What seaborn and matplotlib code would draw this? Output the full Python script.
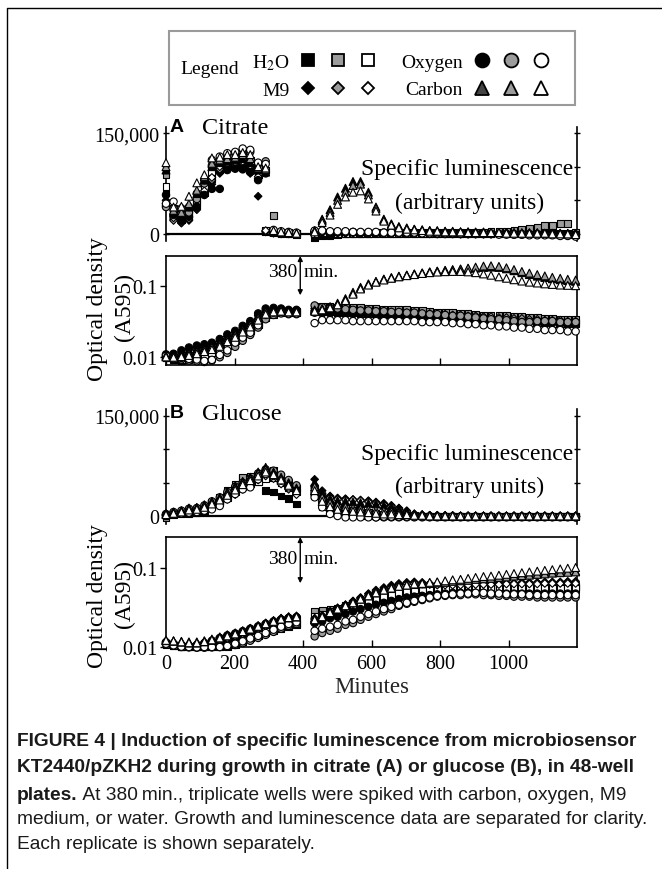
import numpy as np
import pandas as pd
import matplotlib
matplotlib.use("Agg")
import matplotlib.pyplot as plt
import matplotlib.transforms as mtransforms
from matplotlib.lines import Line2D
from matplotlib.patches import Rectangle
from matplotlib.legend_handler import HandlerTuple
from matplotlib.ticker import NullLocator, NullFormatter
from matplotlib import font_manager as fm
import seaborn as sns

sns.set_theme(style="white")
plt.rcParams["font.family"] = ["Liberation Serif", "DejaVu Serif"]
plt.rcParams["mathtext.fontset"] = "stix"
plt.rcParams["axes.edgecolor"] = "black"
plt.rcParams["axes.linewidth"] = 1.2
plt.rcParams["xtick.color"] = "black"
plt.rcParams["ytick.color"] = "black"
plt.rcParams["text.color"] = "black"

# ------------------------------------------------------------------ data
# sampling times (minutes) before and after the 380-min spike
T_PRE = [0, 22, 45, 67, 90, 112, 134, 157, 179, 202, 224, 246, 269, 291, 314, 336, 358, 381]
T_POST = [434, 456, 479, 501, 524, 546, 568, 591, 613, 636, 658, 680, 703, 725, 748, 770, 792,
          815, 837, 860, 882, 904, 927, 949, 972, 994, 1016, 1039, 1061, 1084, 1106, 1128,
          1151, 1173, 1196]
TREATMENTS = ["H2O", "M9", "Oxygen", "Carbon"]
REPLICATES = ["black", "gray", "white"]

# ---- Panel A (citrate): specific luminescence, thousands of arbitrary units
A_LUM_H2O = [
    [62, 30, 22, 28, 45, 62, 82, 95, 100, 102, 100, 96, 88, 4, 2, 1, 0, -1]
    + [-5, -3, -2, -1, 0, 0, 0, 0, 1, 1, 1, 1, 1, 1, 1, 1, 1, 1, 1, 1, 1, 1, 1, 1, 1, 1, 1, 1, 1, 1, 1, 1, 1, 1, 0],
    [88, 35, 25, 30, 50, 72, 98, 105, 110, 112, 115, 110, 100, 95, 27, 3, 2, 1]
    + [0, 1, 1, 1, 1, 1, 1, 1, 2, 2, 2, 2, 2, 2, 2, 2, 3, 3, 3, 3, 3, 3, 3, 4, 4, 4, 6, 7, 8, 9, 12, 13, 15, 16, 3],
    [70, 38, 28, 34, 55, 70, 92, 102, 106, 108, 110, 104, 92, 5, 3, 2, 1, 1]
    + [1, 2, 2, 1, 1, 1, 1, 1, 1, 1, 1, 1, 1, 1, 1, 1, 1, 1, 1, 1, 0, 0, 0, 0, 0, 0, 0, 0, 0, 0, 0, 0, 0, 0, 0],
]
A_LUM_M9 = [
    [50, 22, 16, 20, 36, 58, 74, 90, 96, 98, 97, 90, 56, 3, 1, 0, 0, 0]
    + [2, 2, 2, 2, 1, 1, 1, 1, 1, 1, 1, 1, 1, 1, 1, 0, 0, 0, 0, 0, 0, 0, 0, 0, 0, 0, 0, 0, 0, 0, 0, 0, 0, 0, 0],
    [42, 20, 17, 22, 38, 60, 80, 96, 102, 104, 106, 100, 82, 4, 2, 1, 1, 0]
    + [3, 3, 2, 2, 2, 2, 2, 1, 1, 1, 1, 1, 1, 1, 1, 1, 1, 1, 1, 0, 0, 0, 0, 0, 0, 0, 0, 0, 0, 0, 0, 0, 0, 0, 0],
    [45, 24, 19, 25, 42, 64, 84, 100, 104, 106, 108, 102, 85, 5, 3, 2, 1, 1]
    + [3, 3, 3, 2, 2, 2, 2, 2, 2, 1, 1, 1, 1, 1, 1, 1, 1, 1, 1, 1, 1, 1, 0, 0, 0, 0, 0, 0, 0, 0, 0, 0, 0, -1, -1],
]
A_LUM_OXY = [
    [58, 28, 20, 26, 40, 58, 67, 67, 95, 97, 96, 92, 80, 90, 4, 2, 1, 0]
    + [3, 3, 2, 2, 2, 2, 1, 1, 1, 1, 1, 1, 1, 1, 1, 1, 0, 0, 0, 0, 0, 0, 0, 0, 0, 0, 0, 0, 0, 0, -1, -1, -1, -1, -1],
    [40, 38, 30, 32, 52, 75, 102, 110, 116, 120, 125, 122, 104, 108, 5, 3, 2, 1]
    + [4, 4, 3, 3, 3, 3, 2, 2, 2, 2, 2, 2, 1, 1, 1, 1, 1, 1, 1, 0, 0, 0, 0, 0, 0, 0, -1, -1, -1, -1, -1, -1, -2, -2, -2],
    [45, 48, 38, 40, 60, 80, 110, 115, 120, 122, 127, 125, 106, 104, 6, 4, 3, 2]
    + [5, 5, 4, 4, 4, 3, 3, 3, 3, 2, 2, 2, 2, 2, 1, 1, 1, 1, 1, 0, 0, 0, 0, 0, -1, -1, -1, -1, -2, -2, -2, -2, -3, -3, -4],
]
A_LUM_CARB = [
    [95, 32, 28, 40, 60, 80, 100, 106, 108, 110, 112, 106, 95, 92, 3, 2, 1, 1]
    + [5, 22, 36, 55, 68, 78, 78, 62, 40, 22, 15, 11, 9, 7, 6, 5, 5, 4, 4, 3, 3, 3, 3, 2, 2, 2, 2, 2, 2, 2, 1, 1, 1, 1, 0],
    [100, 35, 32, 45, 65, 85, 105, 110, 112, 114, 118, 112, 98, 96, 4, 2, 2, 1]
    + [4, 20, 32, 50, 62, 72, 74, 58, 38, 21, 14, 10, 8, 7, 6, 5, 4, 4, 3, 3, 3, 2, 2, 2, 2, 2, 2, 1, 1, 1, 1, 1, 1, 0, 0],
    [106, 40, 41, 56, 76, 88, 113, 114, 118, 118, 121, 118, 100, 98, 5, 3, 2, 1]
    + [3, 17, 28, 44, 55, 62, 64, 52, 34, 19, 13, 9, 7, 6, 5, 4, 4, 3, 3, 3, 2, 2, 2, 2, 2, 1, 1, 1, 1, 1, 1, 0, 0, 0, -1],
]

# ---- Panel A (citrate): optical density A595, in units of 0.001
A_OD_H2O = [
    [10.0, 9.2, 9.1, 9.5, 10.5, 11.5, 12.5, 14.0, 16.0, 18.5, 21.5, 25.5, 32.0, 40.0, 44.0, 44.0, 43.0, 43.0]
    + [46, 45, 45, 44, 44, 44, 43, 43, 43, 42, 42, 41, 41, 40, 40, 39, 39, 38, 38, 37, 37, 36, 36, 35, 35, 34, 34, 33, 33, 32, 32, 32, 31, 31, 31],
    [10.2, 9.8, 9.7, 10.0, 10.8, 11.7, 12.4, 13.5, 15.0, 17.5, 20.0, 24.0, 30.0, 37.0, 41.0, 43.0, 44.0, 44.0]
    + [52, 51, 51, 50, 50, 49, 49, 48, 48, 47, 47, 46, 46, 45, 45, 44, 43, 43, 42, 41, 41, 40, 39, 39, 38, 38, 37, 37, 36, 36, 35, 35, 34, 34, 34],
    [10.0, 9.5, 9.4, 9.2, 10.0, 11.0, 11.8, 13.0, 14.5, 17.0, 19.5, 23.5, 29.0, 36.0, 40.0, 42.0, 42.0, 42.0]
    + [44, 43, 43, 42, 42, 42, 41, 41, 40, 40, 40, 39, 39, 38, 38, 37, 37, 36, 36, 35, 35, 34, 34, 33, 33, 33, 32, 32, 31, 31, 31, 30, 30, 30, 30],
]
A_OD_M9 = [
    [10.8, 11.0, 11.8, 12.8, 13.6, 14.2, 15.0, 16.8, 19.5, 22.0, 26.0, 30.0, 38.0, 45.0, 47.0, 46.0, 45.0, 45.0]
    + [45, 44, 44, 43, 43, 43, 42, 42, 42, 41, 41, 40, 40, 39, 39, 38, 38, 37, 37, 36, 36, 35, 35, 34, 34, 33, 33, 33, 32, 32, 31, 31, 31, 30, 30],
    [10.4, 10.2, 10.8, 11.5, 12.5, 13.2, 14.0, 15.5, 18.0, 20.5, 24.0, 28.5, 35.0, 42.0, 45.0, 45.0, 44.0, 44.0]
    + [48, 47, 47, 46, 46, 45, 45, 45, 44, 44, 43, 43, 42, 42, 41, 41, 40, 40, 39, 39, 38, 38, 37, 37, 36, 36, 35, 35, 34, 34, 33, 33, 33, 32, 32],
    [10.2, 10.0, 10.4, 11.0, 11.8, 12.6, 13.4, 14.8, 17.0, 19.5, 23.0, 27.0, 34.0, 41.0, 44.0, 44.0, 43.0, 43.0]
    + [43, 42, 42, 41, 41, 41, 40, 40, 40, 39, 39, 38, 38, 38, 37, 37, 36, 36, 35, 35, 34, 34, 33, 33, 33, 32, 32, 31, 31, 31, 30, 30, 30, 29, 29],
]
A_OD_OXY = [
    [11.0, 11.2, 12.5, 13.7, 14.6, 15.2, 16.0, 18.0, 20.9, 23.4, 27.5, 32.0, 41.0, 48.0, 49.0, 48.0, 46.0, 46.0]
    + [42, 41, 41, 41, 40, 40, 40, 39, 39, 39, 38, 38, 38, 37, 37, 36, 36, 35, 35, 34, 34, 33, 33, 32, 32, 32, 31, 31, 31, 30, 30, 30, 29, 29, 29],
    [10.0, 9.6, 9.3, 9.0, 8.8, 8.6, 9.0, 10.0, 11.5, 14.0, 17.0, 20.5, 26.0, 34.0, 39.0, 41.0, 40.0, 40.0]
    + [53, 50, 49, 48, 47, 46, 45, 45, 44, 44, 43, 43, 42, 42, 41, 40, 40, 39, 38, 38, 37, 36, 35, 34, 34, 33, 32, 31, 31, 32, 32, 32, 31, 31, 31],
    [10.5, 10.0, 9.8, 9.5, 9.3, 8.9, 9.2, 10.8, 12.5, 16.0, 18.8, 22.0, 28.0, 39.0, 42.0, 43.0, 41.0, 41.0]
    + [30, 33, 33, 33, 33, 32, 32, 32, 32, 32, 32, 32, 32, 32, 31, 31, 31, 31, 30, 30, 29, 29, 28, 28, 27, 27, 26, 26, 25, 25, 24, 24, 24, 23, 23],
]
A_OD_CARB = [
    [10.6, 10.8, 11.2, 12.0, 12.8, 13.5, 14.5, 16.0, 18.5, 21.5, 25.0, 29.5, 37.0, 44.0, 46.0, 46.0, 45.0, 45.0]
    + [45, 47, 51, 57, 66, 81, 95, 106, 115, 124, 130, 136, 141, 146, 151, 156, 160, 164, 167, 170, 173, 176, 180, 182, 180, 172, 162, 152, 143, 136, 130, 125, 121, 118, 115],
    [10.3, 10.4, 10.6, 11.2, 12.0, 12.8, 13.8, 15.2, 17.5, 20.5, 24.0, 28.5, 35.5, 43.0, 45.0, 45.0, 44.0, 44.0]
    + [46, 48, 50, 55, 64, 78, 92, 104, 113, 122, 128, 134, 140, 145, 150, 155, 159, 163, 167, 171, 176, 182, 188, 190, 186, 178, 168, 158, 150, 143, 137, 131, 127, 123, 120],
    [10.1, 10.0, 10.2, 10.6, 11.2, 12.0, 12.8, 14.2, 16.5, 19.0, 22.5, 26.5, 33.0, 40.0, 43.0, 44.0, 43.0, 43.0]
    + [44, 46, 49, 54, 62, 76, 90, 102, 112, 120, 127, 133, 138, 143, 148, 152, 155, 157, 158, 158, 156, 152, 146, 140, 133, 127, 121, 116, 112, 109, 106, 104, 102, 101, 100],
]

# ---- Panel B (glucose): specific luminescence, thousands of arbitrary units
B_LUM_H2O = [
    [0, 2, 3, 4, 5, 8, 14, 22, 30, 42, 56, 58, 52, 38, 36, 30, 26, 18]
    + [35, 18, 10, 6, 4, 3, 2, 1, 1, 0, 0, 0, 0, 0, 0, 0, -1, -1, -1, -1, -1, -1, -1, -1, -1, -1, -1, -1, -1, -1, -1, -1, -1, -1, -1],
    [-3, 3, 5, 8, 10, 14, 20, 28, 38, 48, 58, 60, 62, 66, 68, 60, 50, 42]
    + [42, 24, 16, 13, 11, 9, 8, 6, 4, 3, 2, 1, 1, 1, 0, 0, 0, 0, 0, 0, 0, 0, 0, 0, 0, 0, 0, 0, 0, 0, 0, 0, 0, 0, 0],
    [1, 4, 5, 7, 8, 10, 14, 20, 28, 36, 44, 48, 52, 56, 58, 50, 42, 36]
    + [30, 14, 8, 5, 3, 2, 1, 1, 0, 0, 0, 0, 0, 0, 0, 0, 0, 0, 0, 0, 0, 0, 0, 0, 0, 0, 0, 0, 0, 0, 0, 0, 0, 0, 0],
]
B_LUM_M9 = [
    [2, 5, 6, 8, 9, 12, 16, 22, 30, 38, 46, 52, 60, 68, 62, 52, 44, 36]
    + [55, 38, 30, 27, 26, 25, 24, 23, 21, 19, 16, 12, 8, 3, 2, 1, 1, 1, 1, 0, 0, 0, 0, 0, 0, 0, 0, 0, 0, 0, 0, 0, 0, 0, 0],
    [1, 4, 5, 7, 8, 11, 15, 20, 27, 35, 43, 50, 58, 64, 60, 50, 42, 34]
    + [46, 34, 28, 26, 25, 24, 23, 22, 20, 18, 15, 11, 7, 3, 2, 1, 1, 0, 0, 0, 0, 0, 0, 0, 0, 0, 0, 0, 0, 0, 0, 0, 0, 0, 0],
    [0, 3, 4, 6, 7, 10, 13, 18, 25, 32, 40, 46, 54, 60, 56, 48, 40, 32]
    + [42, 32, 27, 25, 24, 24, 23, 21, 19, 17, 14, 10, 6, 3, 1, 1, 0, 0, 0, 0, 0, 0, 0, 0, 0, 0, 0, 0, 0, 0, 0, 0, 0, 0, 0],
]
B_LUM_OXY = [
    [2, 4, 6, 9, 10, 13, 18, 24, 32, 40, 48, 54, 62, 68, 64, 56, 48, 40]
    + [32, 15, 7, 3, 1, 0, -1, -1, -1, -1, -1, -1, -1, -1, -1, -1, -1, -1, -1, -1, -1, -1, -1, -1, -1, -1, -1, -1, -1, -1, -1, -1, -1, -1, -1],
    [3, 6, 8, 11, 12, 16, 22, 28, 36, 44, 50, 56, 64, 70, 68, 62, 54, 46]
    + [36, 20, 10, 5, 2, 0, -1, -1, -2, -2, -2, -2, -2, -2, -2, -2, -2, -2, -2, -2, -2, -2, -2, -2, -2, -2, -2, -2, -2, -2, -2, -2, -2, -2, -2],
    [1, 3, 4, 5, 6, 8, 10, 15, 25, 33, 40, 43, 55, 63, 60, 53, 43, 38]
    + [28, 13, 3, 0, -2, -2, -2, -2, -2, -1, -1, -1, -1, -1, -1, -1, -1, -1, -1, -1, -1, -1, -1, -1, -1, -1, -1, -1, -1, -1, -1, -1, -1, -1, -2],
]
B_LUM_CARB = [
    [4, 6, 8, 12, 13, 17, 22, 28, 36, 45, 52, 58, 66, 73, 66, 58, 50, 42]
    + [50, 33, 26, 23, 22, 21, 20, 19, 18, 16, 14, 11, 7, 3, 2, 1, 1, 1, 0, 0, 0, 0, 0, 0, 0, 0, 0, 0, 0, 0, 0, 0, 0, 0, 0],
    [3, 5, 7, 10, 12, 15, 20, 26, 34, 42, 50, 56, 64, 70, 64, 56, 48, 40]
    + [44, 28, 20, 16, 14, 12, 11, 10, 9, 8, 7, 5, 3, 2, 1, 1, 0, 0, 0, 0, 0, 0, 0, 0, 0, 0, 0, 0, 0, 0, 0, 0, 0, 0, 0],
    [2, 4, 6, 9, 10, 13, 18, 24, 31, 39, 47, 53, 60, 66, 62, 54, 46, 38]
    + [38, 22, 14, 10, 8, 7, 6, 5, 4, 3, 3, 2, 2, 1, 1, 0, 0, 0, 0, 0, 0, 0, 0, 0, 0, 0, 0, 0, 0, 0, 0, 0, 0, 0, 0],
]

# ---- Panel B (glucose): optical density A595, in units of 0.001
B_OD_H2O = [
    [11.0, 10.4, 10.0, 10.0, 10.2, 10.4, 10.6, 11.0, 11.6, 12.5, 13.6, 15.0, 16.5, 18.0, 19.5, 21.0, 22.0, 22.5]
    + [22, 24, 26, 28, 30, 32, 35, 38, 41, 44, 47, 49, 51, 53, 54, 55, 56, 57, 57, 58, 58, 58, 58, 58, 58, 58, 58, 58, 58, 58, 58, 58, 58, 58, 58],
    [11.2, 10.6, 10.2, 10.0, 10.0, 10.0, 10.0, 10.0, 10.2, 10.8, 11.8, 13.0, 14.0, 15.0, 16.0, 17.0, 18.0, 19.0]
    + [28, 29, 30, 31, 33, 35, 37, 40, 42, 44, 47, 50, 52, 54, 56, 57, 58, 58, 59, 59, 59, 59, 58, 58, 58, 57, 57, 57, 57, 57, 57, 57, 57, 57, 57],
    [10.8, 10.3, 10.0, 10.0, 10.0, 10.0, 10.0, 10.1, 10.4, 11.0, 12.0, 13.2, 14.5, 15.5, 16.5, 17.5, 18.5, 19.5]
    + [24, 26, 28, 29, 31, 33, 35, 38, 40, 43, 45, 48, 50, 52, 53, 54, 55, 56, 56, 56, 57, 57, 57, 56, 56, 56, 56, 56, 56, 56, 55, 55, 55, 55, 55],
]
B_OD_M9 = [
    [11.8, 11.4, 11.0, 10.8, 11.0, 11.5, 12.2, 13.2, 14.2, 15.0, 16.0, 17.2, 18.5, 20.0, 21.5, 23.0, 24.0, 24.5]
    + [23, 25, 28, 31, 34, 38, 42, 47, 52, 56, 60, 63, 65, 66, 65, 63, 62, 62, 62, 62, 62, 63, 63, 63, 64, 64, 64, 65, 65, 65, 66, 66, 66, 67, 67],
    [11.4, 11.0, 10.6, 10.4, 10.6, 11.0, 11.6, 12.5, 13.4, 14.2, 15.2, 16.4, 17.6, 19.0, 20.5, 21.8, 22.8, 23.2]
    + [22, 24, 27, 30, 33, 37, 41, 45, 50, 54, 58, 61, 63, 64, 63, 62, 61, 61, 61, 61, 61, 62, 62, 62, 62, 63, 63, 63, 63, 64, 64, 64, 64, 65, 65],
    [11.2, 10.8, 10.4, 10.2, 10.4, 10.8, 11.3, 12.0, 12.8, 13.6, 14.6, 15.8, 17.0, 18.4, 19.8, 21.0, 22.0, 22.5]
    + [21, 23, 26, 29, 32, 36, 40, 44, 48, 52, 56, 59, 62, 63, 62, 61, 60, 60, 60, 60, 60, 61, 61, 61, 61, 62, 62, 62, 62, 62, 63, 63, 63, 63, 63],
]
B_OD_OXY = [
    [11.5, 11.0, 10.6, 10.4, 10.6, 11.2, 12.0, 13.0, 14.0, 14.8, 15.8, 17.0, 18.2, 19.6, 21.0, 22.2, 23.2, 23.8]
    + [20, 21, 23, 24, 26, 28, 30, 32, 34, 36, 38, 40, 42, 43, 44, 45, 46, 47, 48, 48, 48, 48, 48, 47, 47, 47, 47, 47, 47, 47, 47, 47, 47, 47, 47],
    [10.8, 10.4, 10.0, 9.9, 9.8, 9.8, 9.9, 10.0, 10.2, 10.6, 11.2, 12.0, 13.0, 14.2, 15.5, 17.0, 18.5, 19.5]
    + [13.6, 15, 16, 17, 19, 20, 22, 24, 26, 28, 30, 33, 35, 37, 39, 41, 43, 44, 45, 45, 46, 46, 45, 45, 44, 44, 43, 43, 43, 42, 42, 42, 42, 42, 42],
    [11.0, 10.5, 10.1, 10.0, 9.9, 10.0, 10.0, 10.0, 10.3, 11.0, 11.8, 12.8, 13.8, 15.0, 16.5, 18.0, 19.5, 20.5]
    + [16, 17, 18, 19, 21, 22, 24, 26, 28, 30, 32, 34, 36, 38, 40, 42, 44, 45, 46, 47, 47, 48, 48, 47, 47, 46, 46, 46, 45, 45, 45, 45, 45, 45, 45],
]
B_OD_CARB = [
    [12.2, 12.0, 11.8, 11.6, 11.6, 12.0, 12.6, 13.4, 14.2, 15.0, 16.0, 17.2, 18.6, 20.0, 21.5, 23.0, 24.0, 24.5]
    + [23, 25, 28, 31, 34, 37, 41, 45, 49, 53, 56, 59, 61, 62, 63, 64, 65, 66, 68, 69, 70, 72, 73, 74, 76, 77, 79, 80, 82, 83, 85, 86, 88, 89, 90],
    [12.0, 11.8, 11.5, 11.2, 11.2, 11.6, 12.1, 12.9, 13.7, 14.5, 15.5, 16.6, 18.0, 19.4, 20.8, 22.2, 23.2, 23.8]
    + [22, 24, 27, 30, 33, 36, 40, 44, 48, 52, 55, 58, 60, 61, 62, 63, 64, 65, 67, 68, 69, 71, 72, 73, 75, 76, 78, 79, 80, 82, 83, 85, 86, 87, 88],
    [12.1, 11.9, 11.6, 11.3, 11.3, 11.7, 12.3, 13.0, 13.8, 14.6, 15.6, 16.8, 18.2, 19.6, 21.0, 22.4, 23.4, 24.0]
    + [22, 24, 27, 30, 33, 36, 40, 44, 48, 52, 55, 58, 60, 62, 63, 65, 66, 68, 70, 71, 73, 75, 77, 78, 80, 82, 84, 86, 88, 90, 92, 94, 96, 98, 100],
]

SPIKE_MIN = 392
X_TICKS = [0, 200, 400, 600, 800, 1000]

# ------------------------------------------------------------------ helpers
W, H = 662, 870
GRAY = "#9c9c9c"
MARKERS = {"H2O": "s", "M9": "D", "Oxygen": "o", "Carbon": "^"}
SIZES = {"H2O": 24, "M9": 15, "Oxygen": 28, "Carbon": 32}
PALETTE = {"black": "black", "gray": GRAY, "white": "white"}


def table(groups, scale):
    times = T_PRE + T_POST
    rows = []
    for treat, reps in zip(TREATMENTS, groups):
        for rep, vals in zip(REPLICATES, reps):
            assert len(vals) == len(times), (treat, rep, len(vals))
            for t, v in zip(times, vals):
                rows.append({"minutes": t, "value": v * scale,
                             "treatment": treat, "replicate": rep})
    return pd.DataFrame(rows)


def rect(x0, y0, x1, y1):
    return [x0 / W, 1 - y1 / H, (x1 - x0) / W, (y1 - y0) / H]


def draw(ax, df):
    for treat in TREATMENTS:
        sub = df[df["treatment"] == treat]
        sns.scatterplot(data=sub, x="minutes", y="value", hue="replicate",
                        hue_order=REPLICATES, palette=PALETTE,
                        marker=MARKERS[treat], s=SIZES[treat],
                        edgecolor="black", linewidth=0.8, legend=False,
                        ax=ax, zorder=3, clip_on=False)


def style_lum(ax, ylim):
    ax.set_xlim(0, 1200)
    ax.set_ylim(*ylim)
    ax.patch.set_alpha(0)
    for s in ("top", "bottom"):
        ax.spines[s].set_visible(False)
    for s in ("left", "right"):
        ax.spines[s].set_linewidth(1.2)
    ax.axhline(0, color="black", lw=1.6, zorder=2)
    ax.set_yticks([0, 50000, 100000, 150000])
    ax.set_yticklabels(["0", "", "", "150,000"])
    ax.tick_params(axis="y", which="both", left=True, right=True,
                   direction="inout", length=5, width=1.0,
                   labelsize=14.5, pad=2)
    ax.set_xticks([])
    ax.set_xlabel("")
    ax.set_ylabel("")


def style_od(ax, ylim, show_x):
    ax.set_yscale("log")
    ax.set_xlim(0, 1200)
    ax.set_ylim(*ylim)
    ax.patch.set_alpha(0)
    ax.set_yticks([0.01, 0.1])
    ax.set_yticklabels(["0.01", "0.1"])
    ax.yaxis.set_minor_locator(NullLocator())
    ax.yaxis.set_minor_formatter(NullFormatter())
    ax.set_xticks(X_TICKS)
    ax.set_xticklabels([str(v) for v in X_TICKS])
    ax.tick_params(axis="y", which="major", left=True, direction="out",
                   length=4, width=1.0, labelsize=14.5, pad=2)
    ax.tick_params(axis="x", bottom=True, direction="in", length=5,
                   width=1.0, labelsize=14.5, labelbottom=show_x, pad=5)
    for s in ax.spines.values():
        s.set_visible(True)
        s.set_linewidth(1.2)
    ax.set_xlabel("")
    ax.set_ylabel("")


def spike(ax, top, bottom, text_y):
    tr = mtransforms.blended_transform_factory(ax.transData, ax.transAxes)
    ax.annotate("", xy=(SPIKE_MIN, bottom), xytext=(SPIKE_MIN, top),
                xycoords=tr, textcoords=tr,
                arrowprops=dict(arrowstyle="<|-|>", color="black", lw=1.0,
                                mutation_scale=7, shrinkA=0, shrinkB=0))
    ax.text(SPIKE_MIN - 10, text_y, "380", transform=tr, ha="right",
            va="center", fontsize=14)
    ax.text(SPIKE_MIN + 9, text_y, "min.", transform=tr, ha="left",
            va="center", fontsize=14)


# ------------------------------------------------------------------ figure
fig = plt.figure(figsize=(W / 100, H / 100), dpi=100)
fig.patch.set_facecolor("white")

a_lum = table([A_LUM_H2O, A_LUM_M9, A_LUM_OXY, A_LUM_CARB], 1000)
a_od = table([A_OD_H2O, A_OD_M9, A_OD_OXY, A_OD_CARB], 0.001)
b_lum = table([B_LUM_H2O, B_LUM_M9, B_LUM_OXY, B_LUM_CARB], 1000)
b_od = table([B_OD_H2O, B_OD_M9, B_OD_OXY, B_OD_CARB], 0.001)

ax_al = fig.add_axes(rect(166, 128, 577, 242))
ax_ao = fig.add_axes(rect(166, 257, 577, 366))
ax_bl = fig.add_axes(rect(166, 410, 577, 525))
ax_bo = fig.add_axes(rect(166, 538, 577, 648))

draw(ax_al, a_lum)
draw(ax_ao, a_od)
draw(ax_bl, b_lum)
draw(ax_bo, b_od)

style_lum(ax_al, (-10500, 159000))
style_lum(ax_bl, (-12000, 160500))
style_od(ax_ao, (0.0078, 0.26), False)
style_od(ax_bo, (0.01, 0.242), True)

spike(ax_ao, 1.0, 0.64, 0.86)
spike(ax_bo, 1.0, 0.58, 0.80)

ax_bo.set_xlabel("Minutes", fontsize=16.5)
ax_bo.xaxis.set_label_coords(0.5, (648 - 677) / 110)

# panel titles and annotations
for ytop, letter, name in ((128, "A", "Citrate"), (414, "B", "Glucose")):
    fig.text(170 / W, 1 - ytop / H, letter,
             family=["Liberation Sans", "DejaVu Sans"], weight="bold",
             fontsize=14, ha="left", va="center")
    fig.text(202 / W, 1 - ytop / H, name, fontsize=17.5, ha="left", va="center")

for y1, y2 in ((170, 203), (455, 487)):
    fig.text(573 / W, 1 - y1 / H, "Specific luminescence", fontsize=17,
             ha="right", va="center")
    fig.text(470 / W, 1 - y2 / H, "(arbitrary units)", fontsize=17,
             ha="center", va="center")

# y-axis titles of the optical-density axes (two lines set separately)
for yc in (309, 596):
    fig.text(97 / W, 1 - yc / H, "Optical density", rotation=90,
             ha="center", va="center", fontsize=17)
    fig.text(124 / W, 1 - (yc - 2) / H, "(A595)", rotation=90,
             ha="center", va="center", fontsize=17)

# legend
def mk(marker, face, size):
    return Line2D([], [], linestyle="none", marker=marker, markersize=size,
                  markerfacecolor=face, markeredgecolor="black",
                  markeredgewidth=1.3)

handles = [
    (mk("s", "black", 9), mk("s", GRAY, 9), mk("s", "white", 9)),
    (mk("D", "black", 6.2), mk("D", GRAY, 6.2), mk("D", "white", 6.2)),
    (mk("o", "black", 10), mk("o", GRAY, 10), mk("o", "white", 10)),
    (mk("^", "#444444", 10), mk("^", GRAY, 10), mk("^", "white", 10)),
]
labels = ["H$_2$O", "M9", "Oxygen", "Carbon"]
fig.legend(handles, labels, handler_map={tuple: HandlerTuple(ndivide=None, pad=0.0)},
           ncol=2, markerfirst=False, frameon=False, fontsize=14,
           handlelength=4.6, handletextpad=0.2, columnspacing=0.95,
           labelspacing=0.5, borderpad=0, borderaxespad=0,
           loc="upper left", bbox_to_anchor=(252 / W, 1 - 53 / H))
fig.text(210 / W, 1 - 70 / H, "Legend", fontsize=14, ha="center", va="center")
fig.add_artist(Rectangle((169 / W, 1 - 106 / H), 406 / W, 74 / H,
                         transform=fig.transFigure, fill=False,
                         edgecolor="#9a9a9a", lw=1.5))

# page frame lines
fig.add_artist(Line2D([7 / W, 7 / W, 1.0], [0, 1 - 9 / H, 1 - 9 / H],
                      transform=fig.transFigure, color="black", lw=1.0))

# caption
available = {f.name for f in fm.fontManager.ttflist}
CAP_FAMILY = next((f for f in ["Liberation Sans Narrow", "Liberation Sans"]
                   if f in available), "DejaVu Sans")
renderer = fig.canvas.get_renderer()
line1 = "FIGURE 4 | Induction of specific luminescence from microbiosensor"
probe = fig.text(0, 0, line1, fontsize=12, family=CAP_FAMILY, weight="bold")
w1 = probe.get_window_extent(renderer).width
probe.remove()
cap_size = 12 * 615 / w1
CAP_COLOR = "#1a1a1a"

cap_lines = [
    (742, [(line1, "bold")]),
    (768, [("KT2440/pZKH2 during growth in citrate (A) or glucose (B), in 48-well", "bold")]),
    (795, [("plates.", "bold"),
           (" At 380\u2009min., triplicate wells were spiked with carbon, oxygen, M9", "normal")]),
    (820, [("medium, or water. Growth and luminescence data are separated for clarity.", "normal")]),
    (845, [("Each replicate is shown separately.", "normal")]),
]
for yc, parts in cap_lines:
    x = 17
    for txt, wt in parts:
        t = fig.text(x / W, 1 - yc / H, txt, fontsize=cap_size,
                     family=[CAP_FAMILY, "DejaVu Sans"], weight=wt,
                     color=CAP_COLOR, ha="left", va="center")
        x += t.get_window_extent(renderer).width

fig.savefig("out.png", dpi=100)
